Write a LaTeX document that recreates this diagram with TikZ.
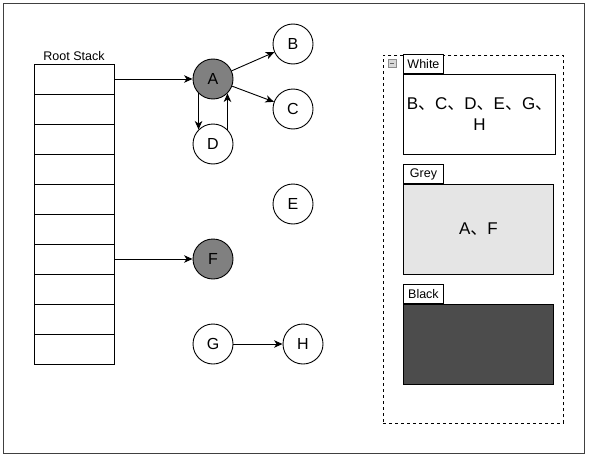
\documentclass[tikz,border=0pt]{standalone}
\usepackage{fontspec}
\setmainfont{Liberation Sans}
\newfontfamily\cjk{Noto Sans CJK SC}
\usepackage{tikz}
\usetikzlibrary{arrows.meta, positioning, calc}

\newcommand{\dun}{{\cjk 、}}

\begin{document}
\begin{tikzpicture}[
        x=1pt, y=-1pt,
        line width=0.9pt,
        >={Stealth[length=8.5pt, width=7.5pt, inset=2.5pt]},
        cell/.style={draw, minimum width=80pt, minimum height=30pt, inner sep=0pt},
        obj/.style={draw, circle, minimum size=40pt, inner sep=0pt, font=\fontsize{16}{18}\selectfont},
        marked/.style={obj, fill=black!50},
        tab/.style={draw, fill=white, anchor=south west, minimum width=40pt, minimum height=19pt, inner sep=1pt, font=\fontsize{12.5}{14}\selectfont},
        set/.style={draw, anchor=north west, minimum width=150pt, minimum height=80pt, align=center, font=\fontsize{17}{21}\selectfont},
        lbl/.style={font=\fontsize{12.5}{14}\selectfont}
    ]
        \useasboundingbox (0,0) rectangle (591,460);
        % outer frame
        \draw[black!75, fill=white, line width=1pt] (3,4) rectangle (584,453);

        %=================== Root Stack ===================
        \foreach \i in {1,...,10}
            \node[cell] (s\i) at (74, 49+30*\i) {};
        \node[lbl, above=-1pt of s1] (rootlab) {Root Stack};

        %=================== objects ===================
        \node[marked] (A) at (213,79) {A};
        \node[obj] (B) at (293,44) {B};
        \node[obj] (C) at (293,109) {C};
        \node[obj] (D) at (213,144) {D};
        \node[obj] (E) at (293,204) {E};
        \node[marked] (F) at (213,259) {F};
        \node[obj] (G) at (213,344) {G};
        \node[obj] (H) at (303,344) {H};

        \draw[->] (s1.east) -- (A.west);
        \draw[->] (s7.east) -- (F.west);
        \draw[->] (A) -- (B);
        \draw[->] (A) -- (C);
        \draw[->] (A.-135) -- (D.135);
        \draw[->] (D.45) -- (A.-45);
        \draw[->] (G) -- (H);

        %=================== colour sets ===================
        \node[draw, dash pattern=on 3pt off 3pt, anchor=north west, minimum width=180pt, minimum height=368pt] (heap) at (383,55) {};
        \node[draw=black!45, fill=black!15, line width=0.6pt, minimum size=8pt, inner sep=0pt] (fold) at (392,63) {};
        \draw[black!60, line width=1pt] ([xshift=2pt]fold.west) -- ([xshift=-2pt]fold.east);

        \node[tab] (wtab) at (403,74) {White};
        \node[set, fill=white] (white) at (403,74) {B\dun C\dun D\dun E\dun G\dun\\H};
        \node[tab] (gtab) at (403,184) {Grey};
        \node[set, fill=black!10, minimum height=90pt] (grey) at (403,184) {A\dun F};
        \node[tab] (btab) at (403,304) {Black};
        \node[set, fill=black!70] (black) at (403,304) {};
    \end{tikzpicture}
\end{document}
